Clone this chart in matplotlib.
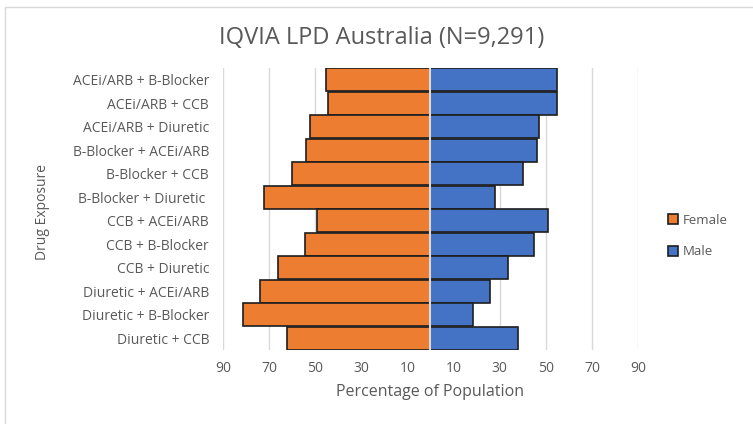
import numpy as np
import matplotlib
matplotlib.use("Agg")
import matplotlib.pyplot as plt
from matplotlib.patches import Rectangle

# data (percent of population)
drugs = [
    "ACEi/ARB + B-Blocker", "ACEi/ARB + CCB", "ACEi/ARB + Diuretic",
    "B-Blocker + ACEi/ARB", "B-Blocker + CCB", "B-Blocker + Diuretic ",
    "CCB + ACEi/ARB", "CCB + B-Blocker", "CCB + Diuretic",
    "Diuretic + ACEi/ARB", "Diuretic + B-Blocker", "Diuretic + CCB",
]
female = [45.3, 44.6, 52.3, 53.8, 59.9, 72.2, 49.1, 54.5, 66.2, 73.8, 81.5, 62.3]
male   = [54.7, 54.7, 47.2, 46.3, 40.1, 27.8, 50.9, 44.7, 33.8, 25.6, 18.6, 37.9]
tick_vals = [-90, -70, -50, -30, -10, 10, 30, 50, 70, 90]

TXT = "#595959"
plt.rcParams["font.family"] = ["Open Sans", "DejaVu Sans"]

fig = plt.figure(figsize=(7.53, 4.24), dpi=100)
ax = fig.add_axes([223 / 753, 1 - 350 / 424, 415 / 753, 282 / 424])

y = np.arange(len(drugs))
ax.barh(y, -np.array(female), height=0.96, color="#ED7D31",
        edgecolor="#1e1e1e", linewidth=1.2, label="Female", zorder=2)
ax.barh(y, male, height=0.96, color="#4472C4",
        edgecolor="#1e1e1e", linewidth=1.2, label="Male", zorder=2)
ax.axvline(0, color="#d9d9d9", linewidth=1.5, zorder=3)

ax.set_xlim(-90, 90)
ax.set_ylim(len(drugs) - 0.5, -0.5)
ax.set_xticks(tick_vals)
ax.set_xticklabels([str(abs(v)) for v in tick_vals])
ax.set_yticks(y)
ax.set_yticklabels(drugs)
ax.tick_params(length=0, colors=TXT, labelsize=10)
ax.tick_params(axis="x", pad=8)
ax.tick_params(axis="y", pad=10)
ax.grid(axis="x", color="#d9d9d9", linewidth=1, zorder=0)
ax.set_axisbelow(True)
for s in ax.spines.values():
    s.set_visible(False)

ax.set_xlabel("Percentage of Population", color=TXT, fontsize=11.5, labelpad=6)
fig.text(42 / 753, 1 - 212 / 424, "Drug Exposure", rotation=90, color=TXT,
         fontsize=10, ha="center", va="center")
fig.text(382 / 753, 1 - 38 / 424, "IQVIA LPD Australia (N=9,291)", color=TXT,
         fontsize=17, ha="center", va="center")

leg = fig.legend(loc="center left", bbox_to_anchor=(656 / 753, 1 - 236 / 424),
                 frameon=False, fontsize=9.5, labelspacing=1.4,
                 handlelength=0.8, handleheight=0.8, handletextpad=0.3)
for t in leg.get_texts():
    t.set_color(TXT)

# chart frame
fig.patches.append(Rectangle((5 / 753, -0.1), 1.1, 1 - 7 / 424 + 0.1,
                             transform=fig.transFigure, fill=False,
                             edgecolor="#d9d9d9", linewidth=1))

fig.savefig("out.png", dpi=100)
